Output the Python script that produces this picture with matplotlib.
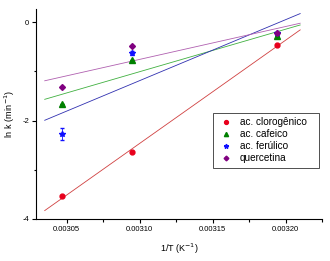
import numpy as np
import matplotlib
matplotlib.use("Agg")
import matplotlib.pyplot as plt
from matplotlib.ticker import MultipleLocator, FormatStrFormatter

plt.rcParams['font.family'] = ['Liberation Sans', 'DejaVu Sans']

inv_t = np.array([0.003047, 0.003095, 0.003194])
names = ["ac. clorogênico", "ac. cafeico", "ac. ferúlico", "quercetina"]
ln_k = {
    "ac. clorogênico": [-3.53, -2.64, -0.47],
    "ac. cafeico": [-1.66, -0.76, -0.29],
    "ac. ferúlico": [-2.27, -0.62, -0.23],
    "quercetina": [-1.32, -0.48, -0.23],
}
errs = {
    "ac. clorogênico": [0, 0, 0],
    "ac. cafeico": [0, 0, 0],
    "ac. ferúlico": [0.12, 0.04, 0.03],
    "quercetina": [0, 0, 0],
}
markers = ["o", "^", "*", "D"]
sizes = [3.5, 3.8, 4.2, 3.0]
colors = ["#e8001c", "#008000", "#1010ff", "#800080"]
fit_colors = ["#d04040", "#40b040", "#3030b0", "#b060b0"]

fig = plt.figure(figsize=(3.3, 2.61), dpi=100)
ax = fig.add_axes([0.109, 0.161, 0.867, 0.805])

xfit = np.linspace(0.003035, 0.003210, 50)
for name, m, s, c, fc in zip(names, markers, sizes, colors, fit_colors):
    y = np.array(ln_k[name])
    slope, icpt = np.polyfit(inv_t, y, 1)
    ax.plot(xfit, slope * xfit + icpt, color=fc, lw=0.6)
    ax.errorbar(inv_t, y, yerr=errs[name], fmt=m, ms=s, color=c,
                ecolor=c, elinewidth=0.6, capsize=1.5, label=name)

ax.set_xlim(0.003029, 0.003225)
ax.set_ylim(-4, 0.27)
ax.xaxis.set_major_locator(MultipleLocator(0.00005))
ax.xaxis.set_minor_locator(MultipleLocator(0.000025))
ax.xaxis.set_major_formatter(FormatStrFormatter('%.5f'))
ax.yaxis.set_major_locator(MultipleLocator(2))
ax.yaxis.set_minor_locator(MultipleLocator(1))
ax.yaxis.set_major_formatter(FormatStrFormatter('%d'))
for side in ["top", "right"]:
    ax.spines[side].set_visible(False)
ax.tick_params(labelsize=5.5, length=3, width=0.8, pad=2)
ax.tick_params(which="minor", length=1.8, width=0.8)

ax.set_xlabel("1/T (K$^{-1}$)", fontsize=6.5, labelpad=6)
ax.set_ylabel("ln k (min$^{-1}$)", fontsize=6.5, labelpad=4)

handles, labels = ax.get_legend_handles_labels()
handles = [h[0] for h in handles]
leg = ax.legend(handles, labels, loc="upper left",
                bbox_to_anchor=(0.619, 0.0, 0.371, 0.505), mode="expand",
                fontsize=7.2, frameon=True, fancybox=False, edgecolor="black",
                handletextpad=0.6, handlelength=1.6, borderpad=0.45, labelspacing=0.2,
                markerscale=0.8, borderaxespad=0)
leg.get_frame().set_linewidth(0.6)

fig.savefig("out.png", dpi=100)
